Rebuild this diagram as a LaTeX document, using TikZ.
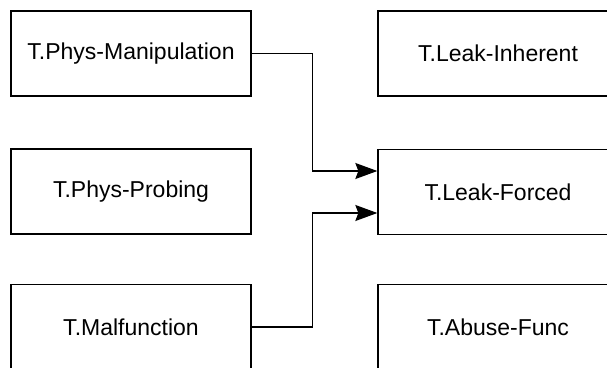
\documentclass[tikz,border=0pt]{standalone}
\usepackage{fontspec}
\setmainfont{Liberation Sans}
\usetikzlibrary{arrows.meta}

\tikzset{
    threat/.style={draw, line width=1.3pt, minimum width=240pt, minimum height=85pt, font=\fontsize{23}{27}\selectfont},
    link/.style={line width=1.3pt, -{Stealth[length=22pt, width=16pt, inset=3pt]}}
}

\begin{document}
\begin{tikzpicture}[x=1pt, y=-1pt]
            \clip (0, 0) rectangle (607, 367);
            \node[threat] (manip) at (131, 53.5) {T.Phys-Manipulation};
            \node[threat] (probing) at (131, 191.5) {T.Phys-Probing};
            \node[threat] (malfunc) at (131, 327) {T.Malfunction};

            \node[threat] (inherent) at (498, 53.5) {T.Leak-Inherent};
            \node[threat] (forced) at (498, 192) {T.Leak-Forced};
            \node[threat] (abuse) at (498, 327) {T.Abuse-Func};

            \draw[link] (manip.east) -- ++(61, 0) |- ([yshift=21pt]forced.west);
            \draw[link] (malfunc.east) -- ++(61, 0) |- ([yshift=-21pt]forced.west);
        \end{tikzpicture}
\end{document}
